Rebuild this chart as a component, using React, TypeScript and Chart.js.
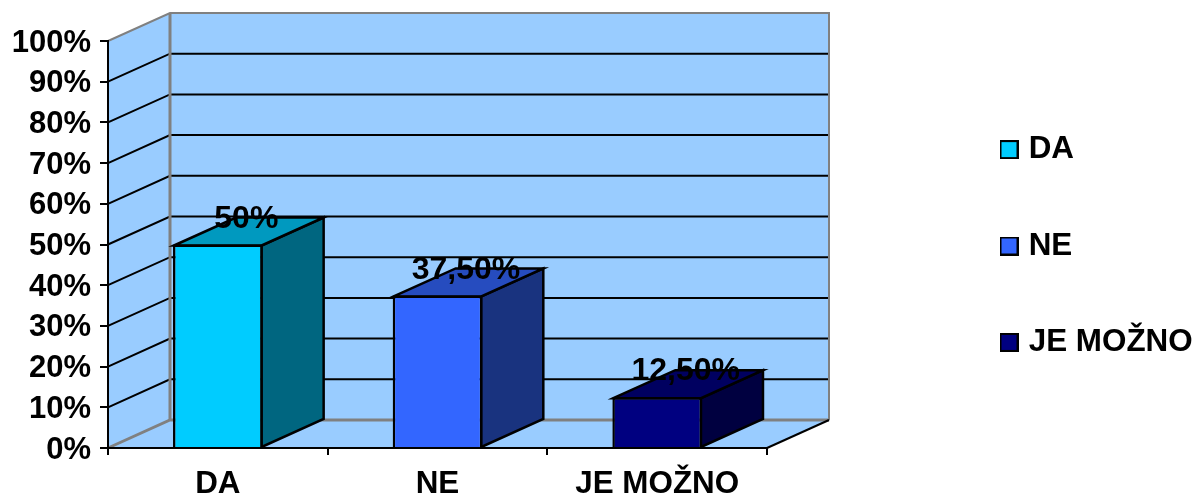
import React, { useEffect, useRef } from "react";
import { Chart, registerables } from "chart.js";

Chart.register(...registerables);

const categories = ["DA", "NE", "JE MOŽNO"];
const values = [50, 37.5, 12.5];
const valueLabels = ["50%", "37,50%", "12,50%"];
const frontColors = ["#00CCFF", "#3366FF", "#000080"];
const topColors = ["#0099BF", "#264CBF", "#000060"];
const sideColors = ["#006680", "#19337F", "#000040"];

const DEPTH_X = 62;
const DEPTH_Y = -28;
const WALL = "#99CCFF";
const GREY = "#808080";
const FONT = "'Liberation Sans', Arial, sans-serif";

function poly(ctx: CanvasRenderingContext2D, pts: number[][], fill: string | null, stroke: string | null, w = 2) {
  ctx.beginPath();
  pts.forEach((p, i) => (i ? ctx.lineTo(p[0], p[1]) : ctx.moveTo(p[0], p[1])));
  if (fill) {
    ctx.closePath();
    ctx.fillStyle = fill;
    ctx.fill();
  }
  if (stroke) {
    ctx.strokeStyle = stroke;
    ctx.lineWidth = w;
    ctx.stroke();
  }
}

function legendSwatch(color: string) {
  const c = document.createElement("canvas");
  c.width = 19;
  c.height = 19;
  const g = c.getContext("2d")!;
  g.fillStyle = color;
  g.fillRect(1, 1, 17, 17);
  g.strokeStyle = "#000000";
  g.lineWidth = 2;
  g.strokeRect(1, 1, 17, 17);
  return c;
}

const box3d = {
  id: "box3d",
  afterLayout(chart: any) {
    const lg = chart.legend;
    const dx = 940 - lg.left;
    lg.left += dx;
    lg.right = chart.width;
    lg.width = lg.right - lg.left;
    lg.top += 1.5;
    lg.bottom += 1.5;
    const y = chart.scales.y;
    if (!y.__shifted) {
      const orig = y.drawLabels;
      y.drawLabels = function (area: any) {
        chart.ctx.save();
        chart.ctx.translate(0, 2);
        orig.call(y, area);
        chart.ctx.restore();
      };
      y.__shifted = true;
    }
  },
  beforeDraw(chart: any) {
    const ctx = chart.ctx;
    const { left, right } = chart.chartArea;
    const y = chart.scales.y;
    const y0 = y.getPixelForValue(0);
    const yMax = y.getPixelForValue(100);
    const bx = DEPTH_X, by = DEPTH_Y;
    ctx.save();
    ctx.lineJoin = "miter";
    // back wall, side wall, floor
    poly(ctx, [[left + bx, yMax + by], [right + bx, yMax + by], [right + bx, y0 + by], [left + bx, y0 + by]], WALL, null);
    poly(ctx, [[left, yMax], [left + bx, yMax + by], [left + bx, y0 + by], [left, y0]], WALL, null);
    poly(ctx, [[left, y0], [left + bx, y0 + by], [right + bx, y0 + by], [right, y0]], WALL, null);
    // grid lines
    y.ticks.forEach((t: any) => {
      if (t.value === 0 || t.value === 100) return;
      const py = y.getPixelForValue(t.value);
      poly(ctx, [[left, py], [left + bx, py + by], [right + bx, py + by]], null, "#000000");
    });
    // wall outlines
    poly(ctx, [[left, yMax], [left + bx, yMax + by], [right + bx, yMax + by], [right + bx, y0 + by]], null, GREY);
    poly(ctx, [[left + bx, yMax + by], [left + bx, y0 + by]], null, GREY, 3);
    poly(ctx, [[left, y0], [left + bx, y0 + by], [right + bx, y0 + by]], null, GREY, 3);
    poly(ctx, [[right, y0], [right + bx, y0 + by]], null, "#000000");
    ctx.restore();
  },
  beforeDatasetsDraw(chart: any) {
    const ctx = chart.ctx;
    const bx = DEPTH_X, by = DEPTH_Y;
    ctx.save();
    ctx.lineJoin = "miter";
    // bar depth faces
    const meta = chart.getDatasetMeta(0);
    meta.data.forEach((bar: any, i: number) => {
      const { x, y: top, base, width } = bar.getProps(["x", "y", "base", "width"]);
      const l = x - width / 2 + 1;
      const r = x + width / 2 - 1;
      const t = top + 1;
      const b = base;
      poly(ctx, [[r, t], [r + bx, t + by], [r + bx, b + by], [r, b]], sideColors[i], "#000000", 2.5);
      poly(ctx, [[l, t], [l + bx, t + by], [r + bx, t + by], [r, t]], topColors[i], "#000000", 2.5);
    });
    ctx.restore();
  },
  afterDatasetsDraw(chart: any) {
    const ctx = chart.ctx;
    const meta = chart.getDatasetMeta(0);
    ctx.save();
    ctx.fillStyle = "#000000";
    ctx.font = `bold 32px ${FONT}`;
    ctx.textAlign = "center";
    ctx.textBaseline = "middle";
    meta.data.forEach((bar: any, i: number) => {
      ctx.fillText(valueLabels[i], bar.x + DEPTH_X / 2 - 2.5, bar.y + DEPTH_Y + 2.5);
    });
    ctx.restore();
  },
};

export default function App() {
  const ref = useRef<HTMLCanvasElement>(null);
  useEffect(() => {
    document.body.style.margin = "0";
    const swatches = frontColors.map(legendSwatch);
    const chart = new Chart(ref.current!, {
      type: "bar",
      data: {
        labels: categories,
        datasets: [
          {
            data: values,
            backgroundColor: frontColors,
            borderColor: "#000000",
            borderWidth: 2.5,
            barPercentage: 0.408,
            categoryPercentage: 1,
          },
        ],
      },
      options: {
        responsive: false,
        animation: false,
        devicePixelRatio: 1,
        layout: { padding: { top: 41, right: 228, bottom: 0, left: 0 } },
        scales: {
          x: {
            afterFit: (s: any) => { s.height = 47; },
            grid: { drawOnChartArea: false, color: "#000000", lineWidth: 2, tickLength: 7, offset: true },
            border: { color: "#000000", width: 2 },
            ticks: {
              color: "#000000",
              font: { family: FONT, size: 31.4, weight: "bold" },
              maxRotation: 0,
              padding: 11,
            },
          },
          y: {
            min: 0,
            max: 100,
            afterFit: (s: any) => { s.width = 108; },
            grid: { drawOnChartArea: false, color: "#000000", lineWidth: 2, tickLength: 8 },
            border: { color: "#000000", width: 2 },
            ticks: {
              color: "#000000",
              font: { family: FONT, size: 31, weight: "bold" },
              stepSize: 10,
              padding: 9,
              callback: (v: any) => `${v}%`,
            },
          },
        },
        plugins: {
          tooltip: { enabled: false },
          legend: {
            display: true,
            position: "right",
            fullSize: false,
            maxWidth: 200,
            labels: {
              font: { family: FONT, size: 31.4, weight: "bold" },
              color: "#000000",
              boxHeight: 18,
              usePointStyle: true,
              pointStyleWidth: 8,
              padding: 65,
              generateLabels: () =>
                categories.map((c, i) => ({
                  text: c,
                  pointStyle: swatches[i],
                  fillStyle: frontColors[i],
                  strokeStyle: "#000000",
                  lineWidth: 2,
                  index: i,
                  hidden: false,
                })),
            },
          },
        },
      },
      plugins: [box3d],
    });
    return () => chart.destroy();
  }, []);
  return <canvas ref={ref} width={1195} height={495} style={{ display: "block" }} />;
}
